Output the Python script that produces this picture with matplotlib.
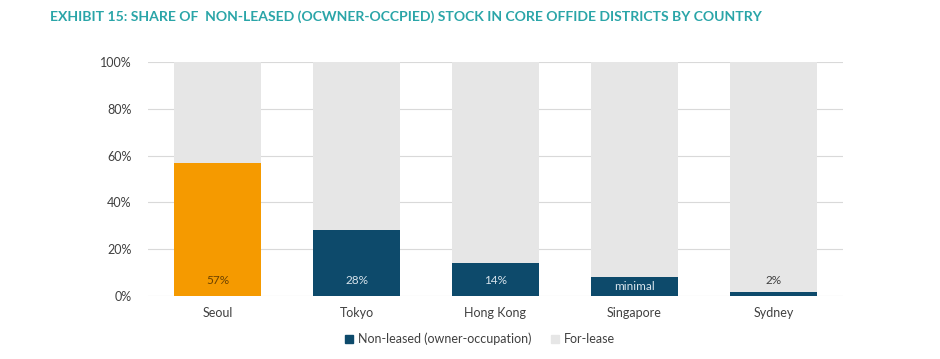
import numpy as np
import matplotlib.pyplot as plt
from matplotlib.patches import Patch

cities = ['Seoul', 'Tokyo', 'Hong Kong', 'Singapore', 'Sydney']
non_leased = [57, 28, 14, 8, 1.5]
labels = ['57%', '28%', '14%', 'minimal', '2%']
label_y = [6.5, 6.5, 6.5, 4, 6.5]
bar_colors = ['#F59A00', '#0D4A6B', '#0D4A6B', '#0D4A6B', '#0D4A6B']
label_colors = ['#6B4200', '#D8E4EC', '#D8E4EC', '#D8E4EC', '#404040']

navy = '#0D4A6B'
grey = '#E6E6E6'

plt.rcParams['font.family'] = ['Lato', 'DejaVu Sans']

fig = plt.figure(figsize=(9.4, 3.59), dpi=100)
ax = fig.add_axes([148/940, 1 - 296/359, 695/940, 234/359])

x = np.arange(len(cities))
w = 0.63
for_lease = [100 - v for v in non_leased]
ax.bar(x, non_leased, width=w, color=bar_colors, zorder=3)
ax.bar(x, for_lease, bottom=non_leased, width=w, color=grey, zorder=3)

for i in range(len(cities)):
    ax.text(x[i], label_y[i], labels[i], ha='center', va='center', fontsize=8.5,
            color=label_colors[i], zorder=4)

ax.set_xlim(-0.5, len(cities) - 0.5)
ax.set_ylim(0, 100)
ax.set_yticks(range(0, 101, 20))
ax.set_yticklabels([f'{v}%' for v in range(0, 101, 20)])
ax.set_xticks(x)
ax.set_xticklabels(cities)
ax.tick_params(axis='both', length=0, labelsize=9, colors='#404040')
ax.tick_params(axis='y', pad=12)
ax.tick_params(axis='x', pad=8)
ax.grid(axis='y', color='#D9D9D9', linewidth=0.8, zorder=0)
for s in ax.spines.values():
    s.set_visible(False)

handles = [Patch(color=navy, label='Non-leased (owner-occupation)'),
           Patch(color=grey, label='For-lease')]
fig.legend(handles=handles, loc='center', bbox_to_anchor=(480/940, 1 - 339/359),
           ncol=2, frameon=False, fontsize=9, handlelength=0.7, handleheight=0.7,
           handletextpad=0.4, columnspacing=1.5, labelcolor='#404040')

fig.text(50/940, 1 - 17/359, 'EXHIBIT 15: SHARE OF  NON-LEASED (OCWNER-OCCPIED) STOCK IN CORE OFFIDE DISTRICTS BY COUNTRY',
         fontsize=10.1, color='#2AA5A8', fontweight='bold', va='center')

fig.savefig('out.png', dpi=100)
